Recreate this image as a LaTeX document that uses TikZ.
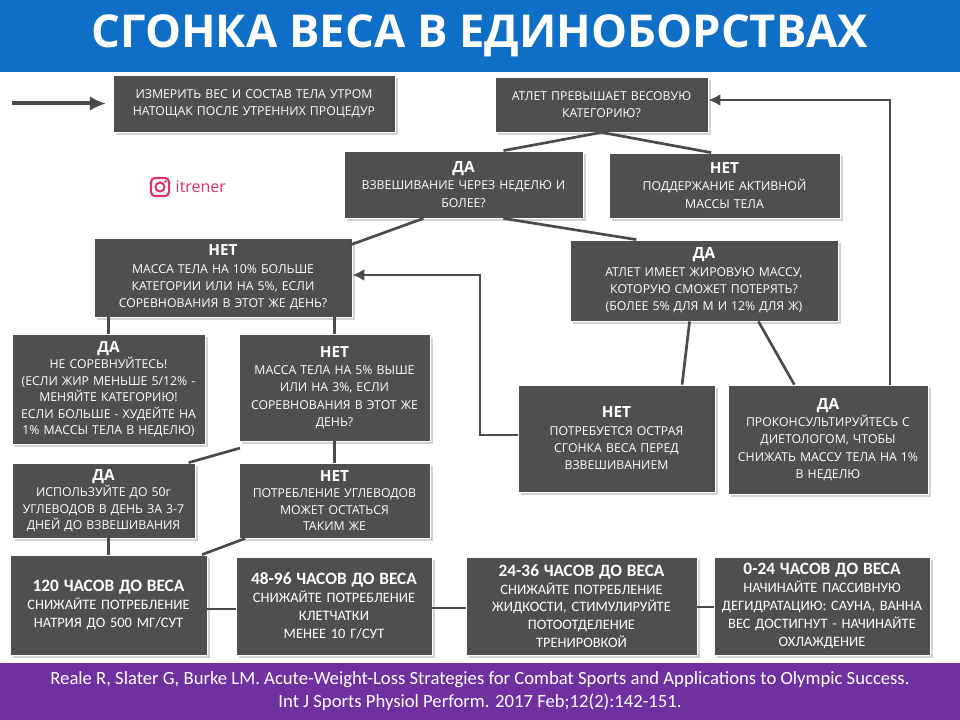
\documentclass[tikz,border=0pt]{standalone}
\usepackage{fontspec}
\setmainfont{Open Sans}
\newfontfamily\calfont{Carlito}
\usetikzlibrary{shadows,arrows.meta}
\definecolor{boxc}{HTML}{4F4F4F}
\definecolor{linec}{HTML}{4A4A4A}
\definecolor{titleb}{HTML}{0F6FC6}
\definecolor{footp}{HTML}{7030A0}
\definecolor{insta}{HTML}{E1306C}
\tikzset{
 box/.style={fill=boxc, draw=white, line width=0.6pt, text=white, align=center, inner sep=1pt,
   font=\fontsize{9.2}{13}\selectfont, drop shadow={shadow xshift=2pt,shadow yshift=-2pt,opacity=0.35}},
 tight/.style={font=\fontsize{9.2}{12.4}\selectfont},
 conn/.style={linec, line width=2pt},
 arr/.style={linec, line width=2pt, -{Latex[length=9pt,width=9pt]}},
 cbox/.style={font=\calfont\fontsize{10.8}{13.4}\selectfont},
}
\newcommand{\bx}[7][]{\node[box,#1,minimum width={(#5-#3)*0.75pt},minimum height={(#6-#4)*0.75pt},text width={(#5-#3)*0.75pt-4pt}] (#2) at ({(#3+#5)/2},{(#4+#6)/2}) {#7};}
\newcommand{\hd}[1]{{\fontsize{11.5}{14.5}\selectfont\bfseries #1}\\}
\newcommand{\hb}[1]{{\fontsize{13}{17}\selectfont\bfseries #1}\\}
\begin{document}
\begin{tikzpicture}[x=0.75pt,y=-0.75pt]
\useasboundingbox (0,0) rectangle (960,720);
\fill[white] (0,0) rectangle (960,720);
\fill[titleb] (0,0) rectangle (960,72);
\node[text=white,font=\fontsize{34}{40}\selectfont\bfseries] (title) at (480,36) {СГОНКА ВЕСА В ЕДИНОБОРСТВАХ};
\fill[footp] (0,663) rectangle (960,720);
\node[text=white,align=center,font=\calfont\fontsize{14}{17.5}\selectfont] (foot) at (480,691) {Reale R, Slater G, Burke LM. Acute-Weight-Loss Strategies for Combat Sports and Applications to Olympic Success.\\Int J Sports Physiol Perform. 2017 Feb;12(2):142-151.};

\bx{A}{113}{75}{395}{132}{ИЗМЕРИТЬ ВЕС И СОСТАВ ТЕЛА УТРОМ\\НАТОЩАК ПОСЛЕ УТРЕННИХ ПРОЦЕДУР}
\bx{B}{495}{77}{708}{132}{АТЛЕТ ПРЕВЫШАЕТ ВЕСОВУЮ\\КАТЕГОРИЮ?}
\bx{C}{344}{151}{583}{218}{\hd{ДА}ВЗВЕШИВАНИЕ ЧЕРЕЗ НЕДЕЛЮ И\\БОЛЕЕ?}
\bx{D}{609}{153}{840}{218}{\hd{НЕТ}ПОДДЕРЖАНИЕ АКТИВНОЙ\\МАССЫ ТЕЛА}
\bx{E}{94}{238}{352}{317}{\hd{НЕТ}МАССА ТЕЛА НА 10\% БОЛЬШЕ\\КАТЕГОРИИ ИЛИ НА 5\%, ЕСЛИ\\СОРЕВНОВАНИЯ В ЭТОТ ЖЕ ДЕНЬ?}
\bx{F}{570}{240}{838}{321}{\hd{ДА}АТЛЕТ ИМЕЕТ ЖИРОВУЮ МАССУ,\\КОТОРУЮ СМОЖЕТ ПОТЕРЯТЬ?\\(БОЛЕЕ 5\% ДЛЯ М И 12\% ДЛЯ Ж)}
\bx[tight]{G}{12}{334}{205}{444}{\hd{ДА}НЕ СОРЕВНУЙТЕСЬ!\\(ЕСЛИ ЖИР МЕНЬШЕ 5/12\% -\\МЕНЯЙТЕ КАТЕГОРИЮ!\\ЕСЛИ БОЛЬШЕ - ХУДЕЙТЕ НА\\1\% МАССЫ ТЕЛА В НЕДЕЛЮ)}
\bx{H}{239}{334}{430}{441}{\hd{НЕТ}МАССА ТЕЛА НА 5\% ВЫШЕ\\ИЛИ НА 3\%, ЕСЛИ\\СОРЕВНОВАНИЯ В ЭТОТ ЖЕ\\ДЕНЬ?}
\bx{I}{518}{385}{715}{492}{\hd{НЕТ}ПОТРЕБУЕТСЯ ОСТРАЯ\\СГОНКА ВЕСА ПЕРЕД\\ВЗВЕШИВАНИЕМ}
\bx{J}{728}{385}{928}{494}{\hd{ДА}ПРОКОНСУЛЬТИРУЙТЕСЬ С\\ДИЕТОЛОГОМ, ЧТОБЫ\\СНИЖАТЬ МАССУ ТЕЛА НА 1\%\\В НЕДЕЛЮ}
\bx[tight]{K}{12}{463}{195}{538}{\hd{ДА}ИСПОЛЬЗУЙТЕ ДО 50г\\УГЛЕВОДОВ В ДЕНЬ ЗА 3-7\\ДНЕЙ ДО ВЗВЕШИВАНИЯ}
\bx[tight]{L}{239}{463}{430}{538}{\hd{НЕТ}ПОТРЕБЛЕНИЕ УГЛЕВОДОВ\\МОЖЕТ ОСТАТЬСЯ\\ТАКИМ ЖЕ}
\bx[cbox]{M}{10}{555}{207}{655}{\hb{120 ЧАСОВ ДО ВЕСА}СНИЖАЙТЕ ПОТРЕБЛЕНИЕ\\НАТРИЯ ДО 500 МГ/СУТ}
\bx[cbox]{N}{236}{557}{432}{655}{\hb{48-96 ЧАСОВ ДО ВЕСА}СНИЖАЙТЕ ПОТРЕБЛЕНИЕ\\КЛЕТЧАТКИ\\МЕНЕЕ 10 Г/СУТ}
\bx[cbox]{O}{466}{557}{697}{655}{\hb{24-36 ЧАСОВ ДО ВЕСА}СНИЖАЙТЕ ПОТРЕБЛЕНИЕ\\ЖИДКОСТИ, СТИМУЛИРУЙТЕ\\ПОТООТДЕЛЕНИЕ\\ТРЕНИРОВКОЙ}
\bx[cbox]{P}{714}{557}{930}{655}{\hb{0-24 ЧАСОВ ДО ВЕСА}НАЧИНАЙТЕ ПАССИВНУЮ\\ДЕГИДРАТАЦИЮ: САУНА, ВАННА\\ВЕС ДОСТИГНУТ - НАЧИНАЙТЕ\\ОХЛАЖДЕНИЕ}

% instagram
\draw[insta,line width=1.6pt,rounded corners=3pt] (151,178) rectangle (169,196);
\draw[insta,line width=1.5pt] (160,187) circle (4.5);
\fill[insta] (165.5,181.5) circle (1.3);
\node[insta,anchor=west,font=\fontsize{12}{14}\selectfont] (itr) at (171,187) {itrener};

% connectors
\coordinate (s0) at (12,103.5);
\draw[linec,line width=3pt,-{Latex[length=12pt,width=11pt]}] (s0) -- ([xshift=-5pt]A.west);
\draw[conn] (B.south) -- ([xshift=30pt]C.north);
\draw[conn] (B.south) -- ([xshift=-10pt]D.north);
\draw[conn] ([xshift=-30pt]C.south) -- ([xshift=-3pt,yshift=-6pt]E.north east);
\draw[conn] ([xshift=-60pt]C.south east) -- ([xshift=50pt]F.north west);
\draw[conn] (E.south -| G.north) -- (G.north);
\draw[conn] (E.south -| H.north) -- (H.north);
\draw[conn] ([xshift=90pt]F.south west) -- ([xshift=-25pt]I.north east);
\draw[conn] ([xshift=-60pt]F.south east) -- ([xshift=50pt]J.north west);
\coordinate (ie) at (480,435);
\coordinate (ie2) at (480,275);
\draw[arr] (I.west |- ie) -- (ie) -- (ie2) -- (E.east |- ie2);
\coordinate (jb) at (890,100);
\draw[arr] (J.north -| jb) -- (jb) -- (B.east |- jb);
\draw[conn] ([xshift=1pt,yshift=-5pt]H.south west) -- ([xshift=-5pt]K.north east);
\draw[conn] (H.south -| L.north) -- (L.north);
\draw[conn] (K.south -| M.north) -- (M.north);
\draw[conn] ([xshift=5pt]L.south west) -- ([xshift=-4pt]M.north east);
\draw[conn] (M.east |- 0,609) -- (N.west |- 0,609);
\draw[conn] (N.east |- 0,608) -- (O.west |- 0,608);
\draw[conn] (O.east |- 0,607) -- (P.west |- 0,607);
\end{tikzpicture}
\end{document}
